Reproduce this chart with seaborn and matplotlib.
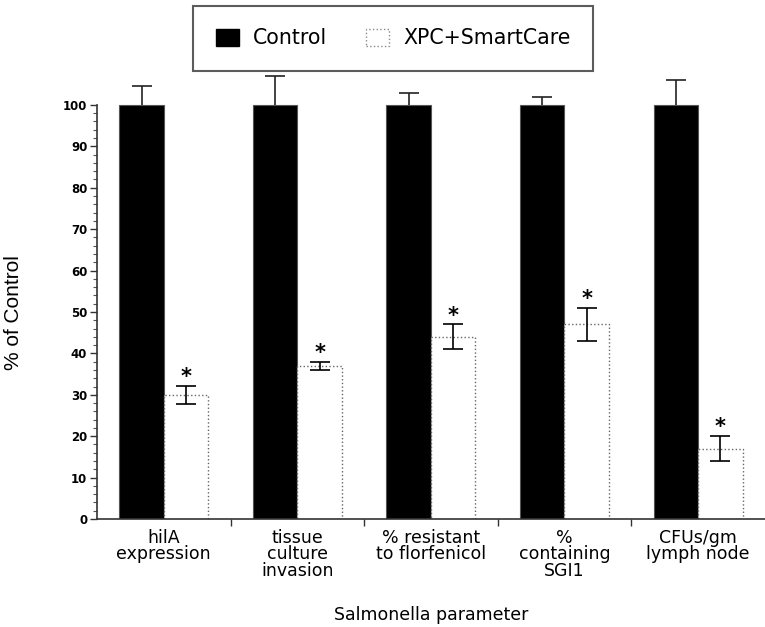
import pandas as pd
import seaborn as sns
import matplotlib.pyplot as plt
from matplotlib.patches import Patch
from matplotlib.ticker import FixedLocator

# values (% of control)
params = ["hilA\nexpression", "tissue\nculture\ninvasion", "% resistant\nto florfenicol",
          "%\ncontaining\nSGI1", "CFUs/gm\nlymph node"]
control_mean = [100, 100, 100, 100, 100]
control_err = [4.6, 7.0, 3.0, 2.0, 6.0]
xpc_mean = [30, 37, 44, 47, 17]
xpc_err = [2.2, 1.0, 3.0, 4.0, 3.0]
groups = ["Control", "XPC+SmartCare"]

df = pd.DataFrame({
    "param": params * 2,
    "group": [groups[0]] * 5 + [groups[1]] * 5,
    "value": control_mean + xpc_mean,
})

sns.set_style("ticks")
plt.rcParams['font.family'] = ['DejaVu Sans']
plt.rcParams.update({"text.color": "black", "axes.labelcolor": "black",
                     "xtick.color": "black", "ytick.color": "black"})

fig = plt.figure(figsize=(7.65, 6.27), dpi=100)
ax = fig.add_axes([0.1268, 0.1722, 0.873, 0.708])

sns.barplot(data=df, x="param", y="value", hue="group", order=params, hue_order=groups,
            palette=["black", "white"], width=2/3, errorbar=None, legend=False, ax=ax)

# style bars: black control, white dotted-edge treatment
bars = ax.patches
ctrl_bars = bars[:5]
xpc_bars = bars[5:10]
for b in ctrl_bars:
    b.set_edgecolor("#555555")
    b.set_linewidth(0.8)
for b in xpc_bars:
    b.set_facecolor("white")
    b.set_edgecolor("#666666")
    b.set_linestyle(":")
    b.set_linewidth(1.0)

# error bars at bar centers (control: upper only)
cx = [b.get_x() + b.get_width() / 2 for b in ctrl_bars]
tx = [b.get_x() + b.get_width() / 2 for b in xpc_bars]
eb = ax.errorbar(cx, control_mean, yerr=[[0] * 5, control_err], fmt="none", ecolor="#222222",
                 elinewidth=1.2, capsize=7, capthick=1.2, clip_on=False, zorder=3)
eb[1][0].set_visible(False)  # hide the lower caps
ax.errorbar(tx, xpc_mean, yerr=xpc_err, fmt="none", ecolor="black",
            elinewidth=1.2, capsize=7, capthick=1.2, zorder=3)
for x, m, e in zip(tx, xpc_mean, xpc_err):
    ax.text(x, m + e - 0.3, "*", ha="center", va="bottom", fontsize=15, fontweight="bold")

ax.set_xlim(-0.5, 4.5)
ax.set_ylim(0, 107.2)

ax.yaxis.set_major_locator(FixedLocator(list(range(0, 101, 10))))
ax.yaxis.set_minor_locator(FixedLocator(list(range(0, 101, 2))))
ax.tick_params(axis="y", which="major", length=5, width=1, labelsize=8.5, pad=2, color="#333333")
ax.tick_params(axis="y", which="minor", length=3, width=0.8, color="#555555")
for lab in ax.get_yticklabels():
    lab.set_fontweight("bold")

ax.xaxis.set_minor_locator(FixedLocator([0.5, 1.5, 2.5, 3.5]))
ax.tick_params(axis="x", which="major", length=0, labelsize=12.5, pad=7)
ax.tick_params(axis="x", which="minor", length=5, width=1, color="#333333")
for lab in ax.get_xticklabels():
    lab.set_linespacing(0.9)

sns.despine(ax=ax)
ax.spines["left"].set_bounds(0, 100)
for s in ["left", "bottom"]:
    ax.spines[s].set_linewidth(1.2)
    ax.spines[s].set_color("#333333")

ax.set_xlabel("Salmonella parameter", fontsize=12.5)
ax.xaxis.set_label_coords(0.5, -0.195)
ax.set_ylabel("% of Control", fontsize=15, family=["Liberation Sans Narrow", "Liberation Sans"])
ax.yaxis.set_label_coords(-0.111, 0.466)

handles = [Patch(facecolor="black", edgecolor="black"),
           Patch(facecolor="white", edgecolor="#888888", linestyle=":")]
leg = fig.legend(handles, groups, loc="center", bbox_to_anchor=(0.514, 0.9386), ncol=2,
                 fontsize=14.8, frameon=True, fancybox=False, borderpad=1.1,
                 handlelength=1.1, handleheight=0.9, handletextpad=0.7, columnspacing=1.9)
leg.get_frame().set_edgecolor("#333333")
leg.get_frame().set_linewidth(1.5)

fig.savefig("out.png", dpi=100)
